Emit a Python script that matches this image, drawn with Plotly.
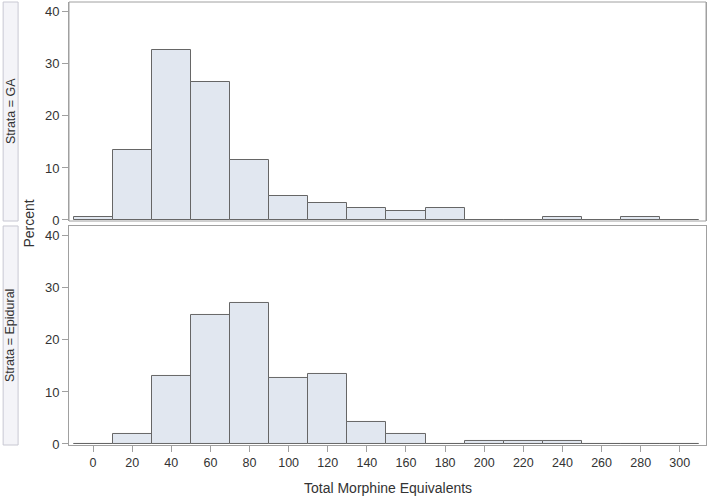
import plotly.graph_objects as go

# bin midpoints (width 20)
bins = [0, 20, 40, 60, 80, 100, 120, 140, 160, 180, 200, 220, 240, 260, 280, 300]
ga_pct = [0.5, 13.5, 32.6, 26.5, 11.6, 4.7, 3.3, 2.3, 1.8, 2.3, 0, 0, 0.5, 0, 0.5, 0]
epi_pct = [0, 1.9, 13.1, 24.7, 27.1, 12.7, 13.5, 4.2, 1.9, 0, 0.5, 0.5, 0.5, 0, 0, 0]
strata = ["Strata = GA", "Strata = Epidural"]
x_ticks = list(range(0, 301, 20))
y_ticks = [0, 10, 20, 30, 40]

fill = "#e1e7f0"
edge = "#666666"
frame = "#a0a0a0"
txt = "#333333"
font = "Liberation Sans, Arial, sans-serif"

fig = go.Figure()
fig.add_trace(go.Bar(x=bins, y=ga_pct, width=20, marker=dict(color=fill, line=dict(color=edge, width=1)),
                     xaxis="x", yaxis="y2", showlegend=False))
fig.add_trace(go.Bar(x=bins, y=epi_pct, width=20, marker=dict(color=fill, line=dict(color=edge, width=1)),
                     xaxis="x", yaxis="y", showlegend=False))

ax_common = dict(showline=True, mirror=True, linecolor=frame, linewidth=1, showgrid=False,
                 zeroline=False, automargin=False)
fig.update_layout(
    width=709, height=497,
    margin=dict(l=69, r=3, t=2, b=52),
    plot_bgcolor="white", paper_bgcolor="white",
    font=dict(family=font, size=12, color=txt),
    bargap=0,
    xaxis=dict(range=[-12.3, 313.4], tickvals=x_ticks, ticks="outside", ticklen=6, tickcolor=frame,
               tickfont=dict(size=12.5), anchor="y", **ax_common),
    yaxis=dict(domain=[0, 0.4944], range=[-0.2, 41.9], tickvals=y_ticks, ticks="outside", ticklen=6,
               tickcolor=frame, tickfont=dict(size=13), anchor="x", **ax_common),
    yaxis2=dict(domain=[0.5056, 1], range=[-0.2, 41.9], tickvals=y_ticks, ticks="outside", ticklen=6,
                tickcolor=frame, tickfont=dict(size=13), anchor="x", **ax_common),
)

# top panel frame box
fig.add_shape(type="rect", xref="paper", yref="paper", x0=0, x1=1, y0=0.5056, y1=1,
              line=dict(color=frame, width=1))

# strip labels on the left
strips = [(0.5056, 1.0), (0.0, 0.4944)]
for (y0, y1), lab in zip(strips, strata):
    fig.add_shape(type="rect", xref="paper", yref="paper", x0=-0.1034, x1=-0.0799, y0=y0, y1=y1,
                  fillcolor="#f4f4f8", line=dict(color="#c8c8d2", width=1), layer="below")
    fig.add_annotation(x=-0.0917, y=(y0 + y1) / 2, xref="paper", yref="paper", text=lab,
                       xanchor="center", yanchor="middle",
                       textangle=-90, showarrow=False, font=dict(size=12.5, color=txt))

fig.add_annotation(x=-0.0643, y=0.5, xref="paper", yref="paper", text="Percent",
                   xanchor="center", yanchor="middle",
                   textangle=-90, showarrow=False, font=dict(size=14, color=txt))
fig.add_annotation(x=0.5, y=0, xref="paper", yref="paper", yanchor="middle", yshift=-43,
                   text="Total Morphine Equivalents", showarrow=False, font=dict(size=14, color=txt))

fig.write_html("out.html", config={"displayModeBar": False},
               post_script="document.body.style.margin='0';document.body.style.overflow='hidden';")
